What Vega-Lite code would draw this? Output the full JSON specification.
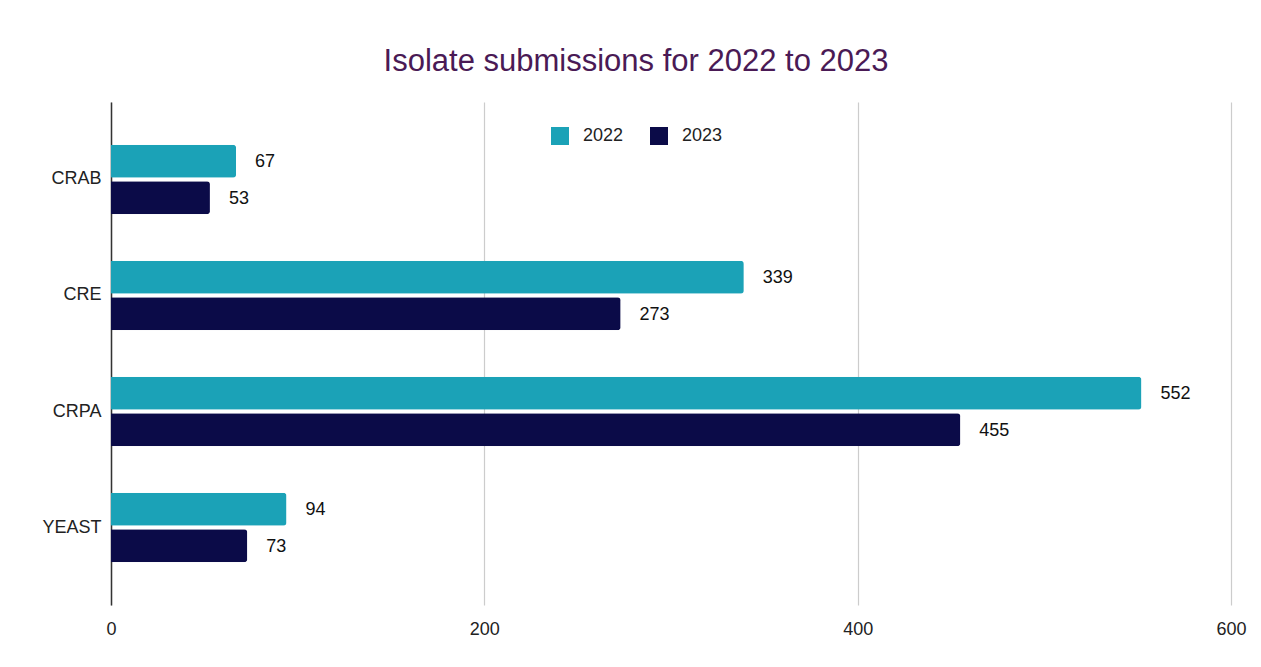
{
  "$schema": "https://vega.github.io/schema/vega-lite/v6.json",
  "width": 1120,
  "height": 503,
  "autosize": {"type": "none"},
  "padding": {"left": 111, "top": 102, "right": 30, "bottom": 62},
  "background": "white",
  "title": {
    "text": "Isolate submissions for 2022 to 2023",
    "fontSize": 31,
    "font": "Liberation Sans",
    "fontWeight": "normal",
    "color": "#4a1a55",
    "anchor": "middle",
    "dx": -35,
    "offset": 24
  },
  "data": {
    "values": [
      {"category": "CRAB", "year": "2022", "value": 67},
      {"category": "CRAB", "year": "2023", "value": 53},
      {"category": "CRE", "year": "2022", "value": 339},
      {"category": "CRE", "year": "2023", "value": 273},
      {"category": "CRPA", "year": "2022", "value": 552},
      {"category": "CRPA", "year": "2023", "value": 455},
      {"category": "YEAST", "year": "2022", "value": 94},
      {"category": "YEAST", "year": "2023", "value": 73}
    ]
  },
  "encoding": {
    "y": {
      "field": "category",
      "type": "nominal",
      "sort": ["CRAB", "CRE", "CRPA", "YEAST"],
      "scale": {"paddingInner": 0.4, "paddingOuter": 0.368},
      "axis": {
        "title": null,
        "ticks": false,
        "domainColor": "#333333",
        "domainWidth": 1.5,
        "labelFontSize": 18,
        "labelColor": "#222222",
        "labelFont": "Liberation Sans",
        "labelPadding": 10
      }
    },
    "yOffset": {
      "field": "year",
      "type": "nominal",
      "scale": {"paddingInner": 0.1}
    },
    "x": {
      "field": "value",
      "type": "quantitative",
      "scale": {"domain": [0, 600]},
      "axis": {
        "title": null,
        "values": [0, 200, 400, 600],
        "grid": true,
        "gridColor": "#cccccc",
        "gridWidth": 1.2,
        "domain": false,
        "ticks": false,
        "labelFlush": false,
        "labelFontSize": 18,
        "labelColor": "#222222",
        "labelFont": "Liberation Sans",
        "labelPadding": 15
      }
    }
  },
  "layer": [
    {
      "mark": {"type": "bar", "cornerRadiusEnd": 3},
      "encoding": {
        "color": {
          "field": "year",
          "type": "nominal",
          "scale": {"domain": ["2022", "2023"], "range": ["#1ba2b7", "#0b0b48"]},
          "legend": {
            "title": null,
            "orient": "none",
            "direction": "horizontal",
            "legendX": 440,
            "legendY": 25,
            "symbolType": "square",
            "symbolSize": 324,
            "symbolStrokeWidth": 0,
            "labelFontSize": 18,
            "labelFont": "Liberation Sans",
            "labelColor": "#222222",
            "labelOffset": 14,
            "columnPadding": 26,
            "padding": 0
          }
        }
      }
    },
    {
      "mark": {"type": "text", "align": "left", "dx": 19, "dy": 1, "fontSize": 18, "font": "Liberation Sans", "color": "#111111"},
      "encoding": {
        "text": {"field": "value", "type": "quantitative"}
      }
    }
  ],
  "config": {
    "view": {"stroke": null}
  }
}
